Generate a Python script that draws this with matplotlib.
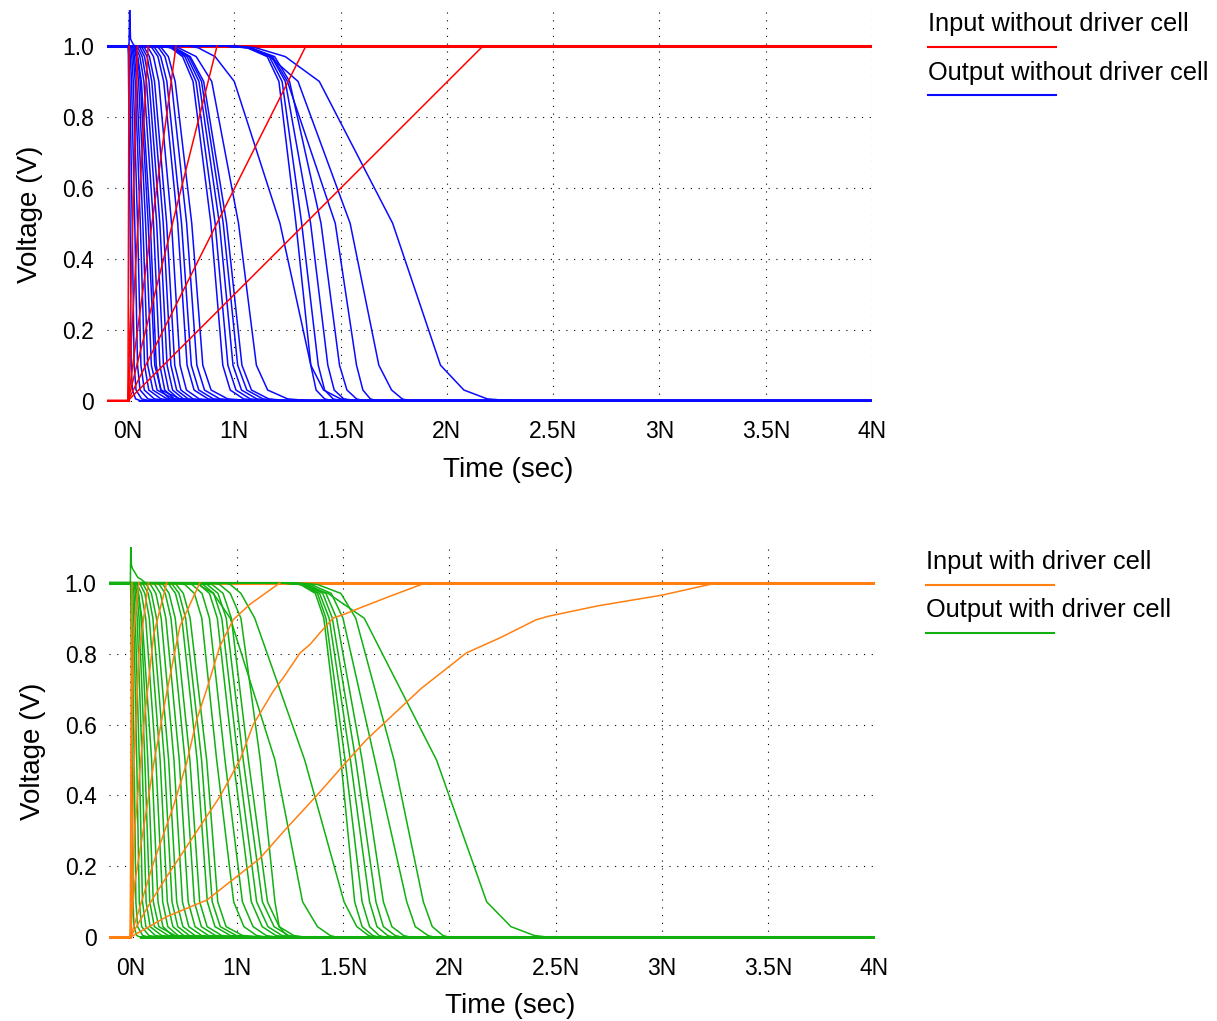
import matplotlib
matplotlib.use("Agg")
import matplotlib.pyplot as plt
from matplotlib.lines import Line2D

plt.rcParams['font.family'] = ['Liberation Sans', 'DejaVu Sans']

LEVELS = [1.0, 0.995, 0.97, 0.9, 0.5, 0.1, 0.03, 0.005, 0.0]

T_LEFT = -0.1
T_RIGHT = 3.5

time_ticks = [0, 0.5, 1.0, 1.5, 2.0, 2.5, 3.0, 3.5]
time_labels = ['0N', '1N', '1.5N', '2N', '2.5N', '3N', '3.5N', '4N']
volt_ticks = [0, 0.2, 0.4, 0.6, 0.8, 1.0]
volt_labels = ['0', '0.2', '0.4', '0.6', '0.8', '1.0']

# ---- without driver cell ----
# input ramps: time (ns) when the linear ramp reaches 1 V
ramp_end_no_drv = [0.005, 0.045, 0.095, 0.226, 0.419, 0.837, 1.67]

# output curves: time (ns) at each of LEVELS
out_no_drv = [
    [0.000, 0.001, 0.002, 0.003, 0.010, 0.015, 0.021, 0.036, 0.058],
    [0.000, 0.002, 0.005, 0.009, 0.020, 0.029, 0.038, 0.064, 0.100],
    [0.004, 0.007, 0.011, 0.017, 0.032, 0.045, 0.057, 0.094, 0.144],
    [0.009, 0.013, 0.018, 0.025, 0.045, 0.061, 0.077, 0.124, 0.189],
    [0.014, 0.018, 0.025, 0.034, 0.058, 0.078, 0.098, 0.155, 0.234],
    [0.018, 0.023, 0.031, 0.041, 0.070, 0.093, 0.117, 0.184, 0.278],
    [0.023, 0.029, 0.038, 0.050, 0.083, 0.110, 0.137, 0.215, 0.323],
    [0.027, 0.034, 0.044, 0.058, 0.095, 0.126, 0.156, 0.245, 0.367],
    [0.014, 0.028, 0.046, 0.063, 0.105, 0.133, 0.154, 0.196, 0.259],
    [0.023, 0.038, 0.056, 0.075, 0.120, 0.150, 0.173, 0.218, 0.285],
    [0.031, 0.047, 0.067, 0.087, 0.135, 0.167, 0.191, 0.239, 0.311],
    [0.040, 0.057, 0.078, 0.099, 0.150, 0.184, 0.210, 0.261, 0.337],
    [0.049, 0.067, 0.090, 0.112, 0.166, 0.202, 0.229, 0.283, 0.364],
    [0.059, 0.078, 0.101, 0.125, 0.182, 0.220, 0.249, 0.306, 0.391],
    [0.075, 0.095, 0.120, 0.145, 0.205, 0.245, 0.275, 0.335, 0.425],
    [0.091, 0.113, 0.141, 0.168, 0.234, 0.278, 0.311, 0.377, 0.476],
    [0.103, 0.126, 0.154, 0.183, 0.252, 0.298, 0.333, 0.402, 0.505],
    [0.120, 0.144, 0.174, 0.204, 0.276, 0.324, 0.360, 0.432, 0.540],
    [0.131, 0.157, 0.190, 0.222, 0.300, 0.352, 0.391, 0.469, 0.586],
    [0.138, 0.201, 0.257, 0.306, 0.390, 0.446, 0.481, 0.544, 0.614],
    [0.140, 0.208, 0.268, 0.320, 0.410, 0.470, 0.508, 0.575, 0.650],
    [0.142, 0.214, 0.278, 0.334, 0.430, 0.494, 0.534, 0.606, 0.686],
    [0.142, 0.219, 0.287, 0.346, 0.448, 0.516, 0.559, 0.635, 0.720],
    [0.140, 0.221, 0.293, 0.356, 0.464, 0.536, 0.581, 0.662, 0.752],
    [0.142, 0.237, 0.321, 0.394, 0.520, 0.604, 0.657, 0.751, 0.856],
    [0.280, 0.330, 0.410, 0.500, 0.715, 0.860, 0.920, 1.000, 1.100],
    [0.450, 0.560, 0.655, 0.710, 0.790, 0.860, 0.885, 0.925, 0.960],
    [0.450, 0.565, 0.665, 0.725, 0.817, 0.895, 0.925, 0.965, 1.000],
    [0.450, 0.570, 0.675, 0.740, 0.859, 0.940, 0.970, 1.015, 1.050],
    [0.450, 0.575, 0.690, 0.760, 0.908, 0.995, 1.030, 1.075, 1.110],
    [0.480, 0.570, 0.680, 0.750, 0.975, 1.075, 1.105, 1.140, 1.170],
    [0.500, 0.580, 0.668, 0.800, 1.045, 1.180, 1.240, 1.290, 1.320],
    [0.500, 0.600, 0.740, 0.900, 1.245, 1.470, 1.580, 1.690, 1.800],
]
spike_t_no_drv = [0.005, 0.008, 0.012, 0.020, 0.030]
spike_v_no_drv = [1.0, 1.11, 1.02, 1.01, 1.0]

# ---- with driver cell ----
in_drv_t = [
    [0, 0.17, 0.36, 0.61, 0.72, 0.88, 0.99, 1.11, 1.22, 1.37, 1.50, 1.58,
     1.74, 1.91, 1.97, 2.2, 2.5, 2.76],
    [0, 0.092, 0.171, 0.296, 0.421, 0.516, 0.578, 0.625, 0.672, 0.719, 0.798,
     0.845, 0.892, 0.955, 1.001, 1.08, 1.221, 1.39],
    [0, 0.045, 0.108, 0.202, 0.265, 0.312, 0.359, 0.421, 0.484, 0.562, 0.704],
    [0, 0.02, 0.061, 0.11, 0.171, 0.233, 0.327],
    [0, 0.02, 0.065, 0.11, 0.171],
    [0, 0.015, 0.04, 0.085],
    [0, 0.005, 0.015, 0.04],
    [0, 0.003, 0.008],
]
in_drv_v = [
    [0, 0.058, 0.105, 0.223, 0.298, 0.402, 0.477, 0.557, 0.619, 0.703, 0.764,
     0.802, 0.845, 0.896, 0.906, 0.935, 0.965, 1.0],
    [0, 0.096, 0.171, 0.284, 0.397, 0.501, 0.6, 0.647, 0.694, 0.732, 0.802,
     0.826, 0.859, 0.901, 0.910, 0.929, 0.962, 1.0],
    [0, 0.086, 0.209, 0.369, 0.492, 0.614, 0.699, 0.821, 0.896, 0.939, 1.0],
    [0, 0.15, 0.303, 0.49, 0.69, 0.877, 1.0],
    [0, 0.3, 0.61, 0.855, 1.0],
    [0, 0.45, 0.8, 1.0],
    [0, 0.5, 0.85, 1.0],
    [0, 0.6, 1.0],
]

out_drv = [
    [0.000, 0.001, 0.002, 0.003, 0.008, 0.013, 0.017, 0.030, 0.048],
    [0.000, 0.002, 0.005, 0.008, 0.018, 0.026, 0.034, 0.058, 0.090],
    [0.004, 0.007, 0.011, 0.016, 0.030, 0.042, 0.053, 0.087, 0.134],
    [0.008, 0.011, 0.017, 0.023, 0.042, 0.057, 0.073, 0.117, 0.178],
    [0.013, 0.017, 0.024, 0.032, 0.055, 0.074, 0.093, 0.147, 0.223],
    [0.018, 0.023, 0.031, 0.041, 0.068, 0.091, 0.113, 0.178, 0.268],
    [0.024, 0.030, 0.039, 0.050, 0.082, 0.108, 0.134, 0.210, 0.314],
    [0.003, 0.018, 0.036, 0.055, 0.100, 0.130, 0.153, 0.198, 0.265],
    [0.016, 0.032, 0.052, 0.072, 0.120, 0.152, 0.176, 0.224, 0.296],
    [0.030, 0.047, 0.068, 0.089, 0.140, 0.174, 0.200, 0.251, 0.327],
    [0.043, 0.061, 0.084, 0.106, 0.160, 0.196, 0.223, 0.277, 0.358],
    [0.057, 0.076, 0.099, 0.123, 0.180, 0.218, 0.247, 0.304, 0.389],
    [0.075, 0.095, 0.120, 0.145, 0.205, 0.245, 0.275, 0.335, 0.425],
    [0.094, 0.115, 0.141, 0.167, 0.230, 0.272, 0.304, 0.367, 0.461],
    [0.114, 0.136, 0.164, 0.191, 0.257, 0.301, 0.334, 0.400, 0.499],
    [0.131, 0.154, 0.182, 0.211, 0.280, 0.326, 0.361, 0.430, 0.533],
    [0.158, 0.182, 0.212, 0.242, 0.314, 0.362, 0.398, 0.470, 0.578],
    [0.173, 0.198, 0.229, 0.260, 0.335, 0.385, 0.423, 0.498, 0.610],
    [0.190, 0.216, 0.249, 0.281, 0.359, 0.411, 0.450, 0.528, 0.645],
    [0.181, 0.256, 0.301, 0.336, 0.406, 0.486, 0.534, 0.594, 0.646],
    [0.213, 0.290, 0.337, 0.372, 0.445, 0.527, 0.577, 0.639, 0.693],
    [0.244, 0.324, 0.372, 0.409, 0.484, 0.569, 0.620, 0.684, 0.740],
    [0.260, 0.342, 0.392, 0.430, 0.507, 0.594, 0.647, 0.713, 0.771],
    [0.276, 0.361, 0.412, 0.451, 0.531, 0.621, 0.676, 0.744, 0.803],
    [0.300, 0.385, 0.436, 0.475, 0.555, 0.645, 0.700, 0.768, 0.827],
    [0.380, 0.420, 0.470, 0.520, 0.611, 0.680, 0.700, 0.735, 0.770],
    [0.280, 0.320, 0.390, 0.470, 0.680, 0.810, 0.880, 0.940, 0.970],
    [0.440, 0.470, 0.520, 0.585, 0.820, 1.005, 1.065, 1.120, 1.150],
    [0.700, 0.800, 0.870, 0.910, 0.990, 1.055, 1.090, 1.140, 1.170],
    [0.700, 0.805, 0.880, 0.920, 1.010, 1.090, 1.125, 1.170, 1.200],
    [0.710, 0.815, 0.890, 0.935, 1.035, 1.125, 1.160, 1.210, 1.240],
    [0.720, 0.825, 0.905, 0.950, 1.060, 1.155, 1.190, 1.245, 1.280],
    [0.730, 0.835, 0.920, 0.970, 1.090, 1.190, 1.230, 1.285, 1.320],
    [0.740, 0.850, 0.945, 1.000, 1.150, 1.300, 1.340, 1.400, 1.430],
    [0.780, 0.880, 0.990, 1.060, 1.240, 1.378, 1.420, 1.470, 1.500],
    [0.720, 0.800, 0.930, 1.100, 1.440, 1.676, 1.790, 1.900, 1.970],
]
spike_t_drv = [0.0, 0.002, 0.005, 0.01, 0.02, 0.035, 0.05, 0.07]
spike_v_drv = [1.0, 1.11, 1.05, 1.04, 1.03, 1.015, 1.01, 1.0]

RED, BLUE = '#ff0000', '#0a0aff'
ORANGE, GREEN = '#ff8010', '#10b010'
THIN, THICK = 1.1, 2.2


def draw_panel(ax, in_t, in_v, outputs, spike_t, spike_v, c_in, c_out):
    # input high plateau goes under the outputs
    first_high = min(t[-1] for t in in_t)
    ax.plot([first_high, T_RIGHT], [1.0, 1.0], color=c_in, lw=THICK)
    for times in outputs:
        ax.plot([T_LEFT] + times + [T_RIGHT], [1.0] + LEVELS + [0.0],
                color=c_out, lw=THIN)
    ax.plot(spike_t, spike_v, color=c_out, lw=THIN)
    ax.plot([T_LEFT, min(t[0] for t in outputs)], [1.0, 1.0], color=c_out, lw=THICK)
    ax.plot([min(t[-1] for t in outputs), T_RIGHT], [0.0, 0.0], color=c_out, lw=THICK)
    for t, v in zip(in_t, in_v):
        ax.plot([T_LEFT] + t, [0.0] + v, color=c_in, lw=THIN)
    ax.plot([T_LEFT, 0.0], [0.0, 0.0], color=c_in, lw=THICK)

    ax.set_xlim(T_LEFT, T_RIGHT)
    ax.set_ylim(-0.004, 1.1)
    ax.set_xticks(time_ticks)
    ax.set_xticklabels(time_labels)
    ax.set_yticks(volt_ticks)
    ax.set_yticklabels(volt_labels)
    ax.grid(True, color='black', linestyle=(0, (1, 6)), linewidth=0.8)
    ax.set_axisbelow(True)
    for s in ax.spines.values():
        s.set_visible(False)
    ax.tick_params(axis='both', length=0, labelsize=16.5)
    ax.tick_params(axis='x', pad=13)
    ax.tick_params(axis='y', pad=9)
    ax.set_xlabel("Time (sec)", fontsize=20)
    ax.set_ylabel("Voltage (V)", fontsize=20)
    ax.xaxis.set_label_coords(0.524, -0.14)
    ax.yaxis.set_label_coords(-0.083, 0.48)


W, H = 1217, 1021
fig = plt.figure(figsize=(W / 100, H / 100), dpi=100)
ax1 = fig.add_axes([106.7 / W, 1 - 402.1 / H, 765.4 / W, 391.6 / H])
ax2 = fig.add_axes([109.1 / W, 1 - 938.7 / H, 765.4 / W, 391.4 / H])

ramp_t = [[0.0, T] for T in ramp_end_no_drv]
ramp_v = [[0.0, 1.0] for _ in ramp_end_no_drv]
draw_panel(ax1, ramp_t, ramp_v, out_no_drv, spike_t_no_drv, spike_v_no_drv, RED, BLUE)
draw_panel(ax2, in_drv_t, in_drv_v, out_drv, spike_t_drv, spike_v_drv, ORANGE, GREEN)

# legends: text with a short line under it
legend = [
    (928, 31, 46.7, "Input without driver cell", RED),
    (928, 80, 95.0, "Output without driver cell", BLUE),
    (926, 569, 584.5, "Input with driver cell", ORANGE),
    (926, 617, 632.7, "Output with driver cell", GREEN),
]
for x, y_txt, y_line, label, color in legend:
    fig.text(x / W, 1 - y_txt / H, label, fontsize=18.3, ha='left', va='baseline')
    fig.add_artist(Line2D([x / W, (x + 128) / W], [1 - y_line / H] * 2,
                          color=color, lw=1.5, transform=fig.transFigure))

fig.savefig("out.png", dpi=100)
